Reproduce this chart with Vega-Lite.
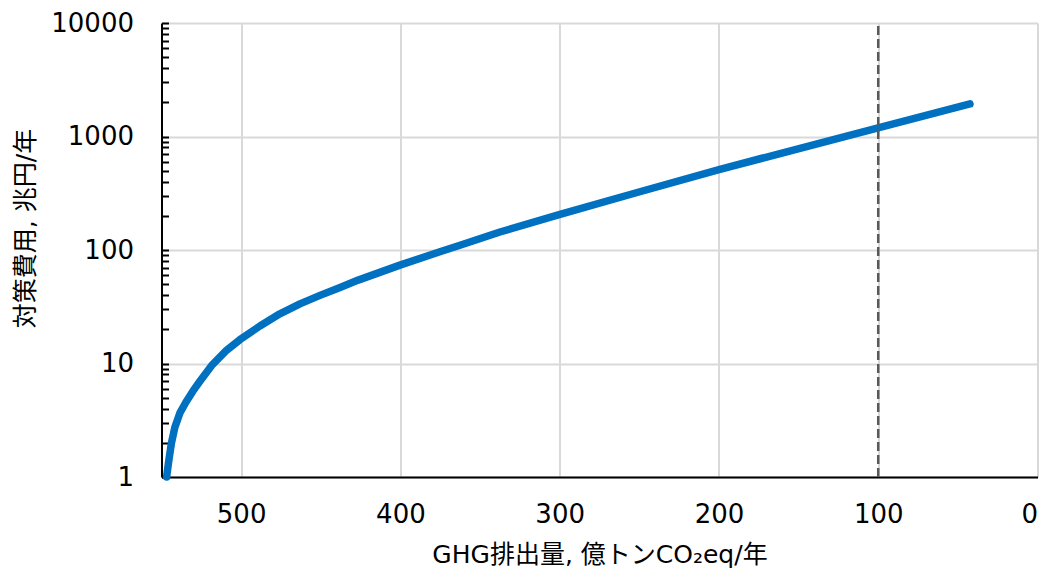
{
  "$schema": "https://vega.github.io/schema/vega-lite/v6.json",
  "width": 876,
  "height": 454,
  "autosize": "none",
  "padding": {"left": 161.5, "top": 23, "right": 13.5, "bottom": 101},
  "background": "#ffffff",
  "config": {
    "view": {"stroke": null},
    "font": "DejaVu Sans, Noto Sans CJK JP",
    "axis": {
      "labelFont": "DejaVu Sans",
      "labelFontSize": 26,
      "labelColor": "#000000",
      "titleFont": "DejaVu Sans, Noto Sans CJK JP",
      "titleFontSize": 25,
      "titleFontWeight": "normal",
      "titleColor": "#000000",
      "gridColor": "#d9d9d9",
      "gridWidth": 2
    }
  },
  "datasets": {
    "curve": [
      {"emission": 546.8, "cost": 1.0},
      {"emission": 545.4, "cost": 1.4},
      {"emission": 543.8, "cost": 1.98},
      {"emission": 541.6, "cost": 2.74},
      {"emission": 538.5, "cost": 3.65},
      {"emission": 534.7, "cost": 4.56},
      {"emission": 530.3, "cost": 5.7},
      {"emission": 525.9, "cost": 6.98},
      {"emission": 518.6, "cost": 9.57},
      {"emission": 509.1, "cost": 13.1},
      {"emission": 500.8, "cost": 16.2},
      {"emission": 488.2, "cost": 21.4},
      {"emission": 475.7, "cost": 27.4},
      {"emission": 463.1, "cost": 33.5},
      {"emission": 450.5, "cost": 39.8},
      {"emission": 437.9, "cost": 46.8},
      {"emission": 426.5, "cost": 54.3},
      {"emission": 400.3, "cost": 73.6},
      {"emission": 375.2, "cost": 96.4},
      {"emission": 362.6, "cost": 110},
      {"emission": 337.5, "cost": 144},
      {"emission": 299.8, "cost": 206},
      {"emission": 249.7, "cost": 326},
      {"emission": 199.4, "cost": 514},
      {"emission": 149.1, "cost": 787},
      {"emission": 98.9, "cost": 1205},
      {"emission": 42.4, "cost": 1936}
    ],
    "target": [
      {"emission": 100, "low": 1, "high": 10000}
    ]
  },
  "resolve": {"axis": {"y": "independent"}},
  "layer": [
    {
      "data": {"name": "curve"},
      "mark": {"type": "line", "color": "#0070C0", "strokeWidth": 7.5, "strokeCap": "round", "strokeJoin": "round"},
      "encoding": {
        "x": {
          "field": "emission",
          "type": "quantitative",
          "scale": {"domain": [0, 550], "reverse": true, "nice": false, "zero": false},
          "axis": {
            "orient": "bottom",
            "values": [0, 100, 200, 300, 400, 500],
            "format": "d",
            "grid": true,
            "ticks": false,
            "domain": true,
            "domainColor": "#000000",
            "domainWidth": 2,
            "labelPadding": 24,
            "labelBaseline": "top",
            "title": "GHG排出量, 億トンCO₂eq/年",
            "titlePadding": 15
          }
        },
        "y": {
          "field": "cost",
          "type": "quantitative",
          "scale": {"type": "log", "domain": [1, 10000], "nice": false},
          "axis": {
            "orient": "left",
            "values": [1, 10, 100, 1000, 10000],
            "format": "d",
            "grid": true,
            "ticks": false,
            "domain": false,
            "labelPadding": 28,
            "title": "対策費用, 兆円/年",
            "titleBaseline": "middle",
            "titleX": -136,
            "titleY": 205
          }
        }
      }
    },
    {
      "data": {"name": "target"},
      "mark": {"type": "rule", "color": "#595959", "strokeWidth": 2.5, "strokeDash": [9, 4]},
      "encoding": {
        "x": {"field": "emission", "type": "quantitative"},
        "y": {
          "field": "low",
          "type": "quantitative",
          "scale": {"type": "log", "domain": [1, 10000], "nice": false},
          "axis": {
            "orient": "left",
            "values": [1, 2, 3, 4, 5, 6, 7, 8, 9, 10, 20, 30, 40, 50, 60, 70, 80, 90, 100, 200, 300, 400, 500, 600, 700, 800, 900, 1000, 2000, 3000, 4000, 5000, 6000, 7000, 8000, 9000, 10000],
            "labels": false,
            "grid": false,
            "ticks": true,
            "tickSize": -7,
            "tickColor": "#000000",
            "tickWidth": 2,
            "domain": true,
            "domainColor": "#000000",
            "domainWidth": 2,
            "title": null
          }
        },
        "y2": {"field": "high"}
      }
    }
  ]
}
